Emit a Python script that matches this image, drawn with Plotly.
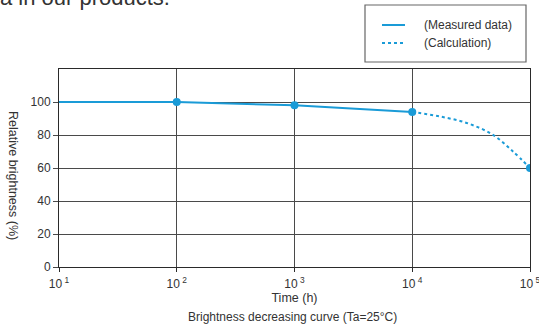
import plotly.graph_objects as go

# measured points (time in h, relative brightness in %)
measured_time = [10, 100, 1000, 10000]
measured_val = [100, 100, 98, 94]
marker_time = [100, 1000, 10000, 100000]
marker_val = [100, 98, 94, 60]

# calculated extension past 10^4 h
calc_time = [10000, 17000, 29000, 48000, 71000, 100000]
calc_val = [94, 91.3, 87.3, 80.3, 70.3, 60]

x_tickvals = [10, 100, 1000, 10000, 100000]
x_ticktext = ["10<sup> 1</sup>", "10<sup> 2</sup>", "10<sup> 3</sup>", "10<sup> 4</sup>", "10<sup> 5</sup>"]
y_tickvals = [0, 20, 40, 60, 80, 100]

BLUE = "#1a9bd7"
FONT = "Liberation Sans, Arial, sans-serif"

# plot area in pixels
L, R, T, B = 59, 9, 69, 58
W, H = 539, 325
PW, PH = W - L - R, H - T - B


def px(x):
    return (x - L) / PW


def py(y):
    return (H - B - y) / PH


fig = go.Figure()

fig.add_trace(go.Scatter(
    x=calc_time, y=calc_val, mode="lines",
    line=dict(color=BLUE, width=2, dash="dot", shape="spline"),
    showlegend=False, hoverinfo="skip"
))
fig.add_trace(go.Scatter(
    x=measured_time, y=measured_val, mode="lines",
    line=dict(color=BLUE, width=2),
    showlegend=False
))
fig.add_trace(go.Scatter(
    x=marker_time, y=marker_val, mode="markers",
    marker=dict(color=BLUE, size=8),
    showlegend=False
))

fig.update_xaxes(
    type="log", range=[1, 5], automargin=False,
    tickvals=x_tickvals, ticktext=x_ticktext,
    showgrid=True, gridcolor="#4a4a4a", gridwidth=1,
    showline=True, linecolor="#2a2a2a", linewidth=1, mirror=True,
    ticks="outside", ticklen=4, tickcolor="#2a2a2a", ticklabelstandoff=2,
    ticklabeloverflow="allow",
    tickfont=dict(size=12, color="#333", family=FONT),
    title=dict(text="Time (h)", font=dict(size=12.5, color="#333", family=FONT), standoff=2),
    zeroline=False
)
fig.update_yaxes(
    range=[0, 120], automargin=False,
    tickvals=y_tickvals,
    showgrid=True, gridcolor="#4a4a4a", gridwidth=1,
    showline=True, linecolor="#2a2a2a", linewidth=1, mirror=True,
    ticks="outside", ticklen=5, tickcolor="#4a4a4a",
    tickfont=dict(size=12, color="#333", family=FONT),
    zeroline=False
)

annotations = [
    # rotated y-axis title, reads top to bottom
    dict(text="Relative brightness (%)", textangle=90,
         x=px(13), y=py(175), xanchor="center", yanchor="middle",
         showarrow=False, font=dict(size=12.5, color="#333", family=FONT)),
    dict(text="Brightness decreasing curve (Ta=25°C)",
         x=px(292), y=py(317), xanchor="center", yanchor="middle",
         showarrow=False, font=dict(size=12, color="#333", family=FONT)),
    dict(text="a in our products.",
         x=px(-2), y=py(-3), xanchor="left", yanchor="middle",
         showarrow=False, font=dict(size=22, color="#333", family=FONT)),
    dict(text="(Measured data)",
         x=px(422), y=py(25), xanchor="left", yanchor="middle",
         showarrow=False, font=dict(size=12, color="#333", family=FONT)),
    dict(text="(Calculation)",
         x=px(422), y=py(43), xanchor="left", yanchor="middle",
         showarrow=False, font=dict(size=12, color="#333", family=FONT)),
]
for a in annotations:
    a["xref"] = "paper"
    a["yref"] = "paper"

shapes = [
    # legend box
    dict(type="rect", xref="paper", yref="paper",
         x0=px(365), x1=px(526), y0=py(62), y1=py(5),
         line=dict(color="#666", width=1.2), fillcolor="white"),
    dict(type="line", xref="paper", yref="paper",
         x0=px(382), x1=px(405), y0=py(25), y1=py(25),
         line=dict(color=BLUE, width=2)),
    dict(type="line", xref="paper", yref="paper",
         x0=px(382), x1=px(405), y0=py(43), y1=py(43),
         line=dict(color=BLUE, width=2, dash="dot")),
]

fig.update_layout(
    width=W, height=H,
    margin=dict(l=L, r=R, t=T, b=B),
    paper_bgcolor="white", plot_bgcolor="white",
    font=dict(family=FONT, color="#333"),
    annotations=annotations, shapes=shapes,
    showlegend=False
)

# body margin would push the fixed-size figure off the window
fig.write_html("out.html", config={"displayModeBar": False},
               post_script="document.body.style.margin='0';")
